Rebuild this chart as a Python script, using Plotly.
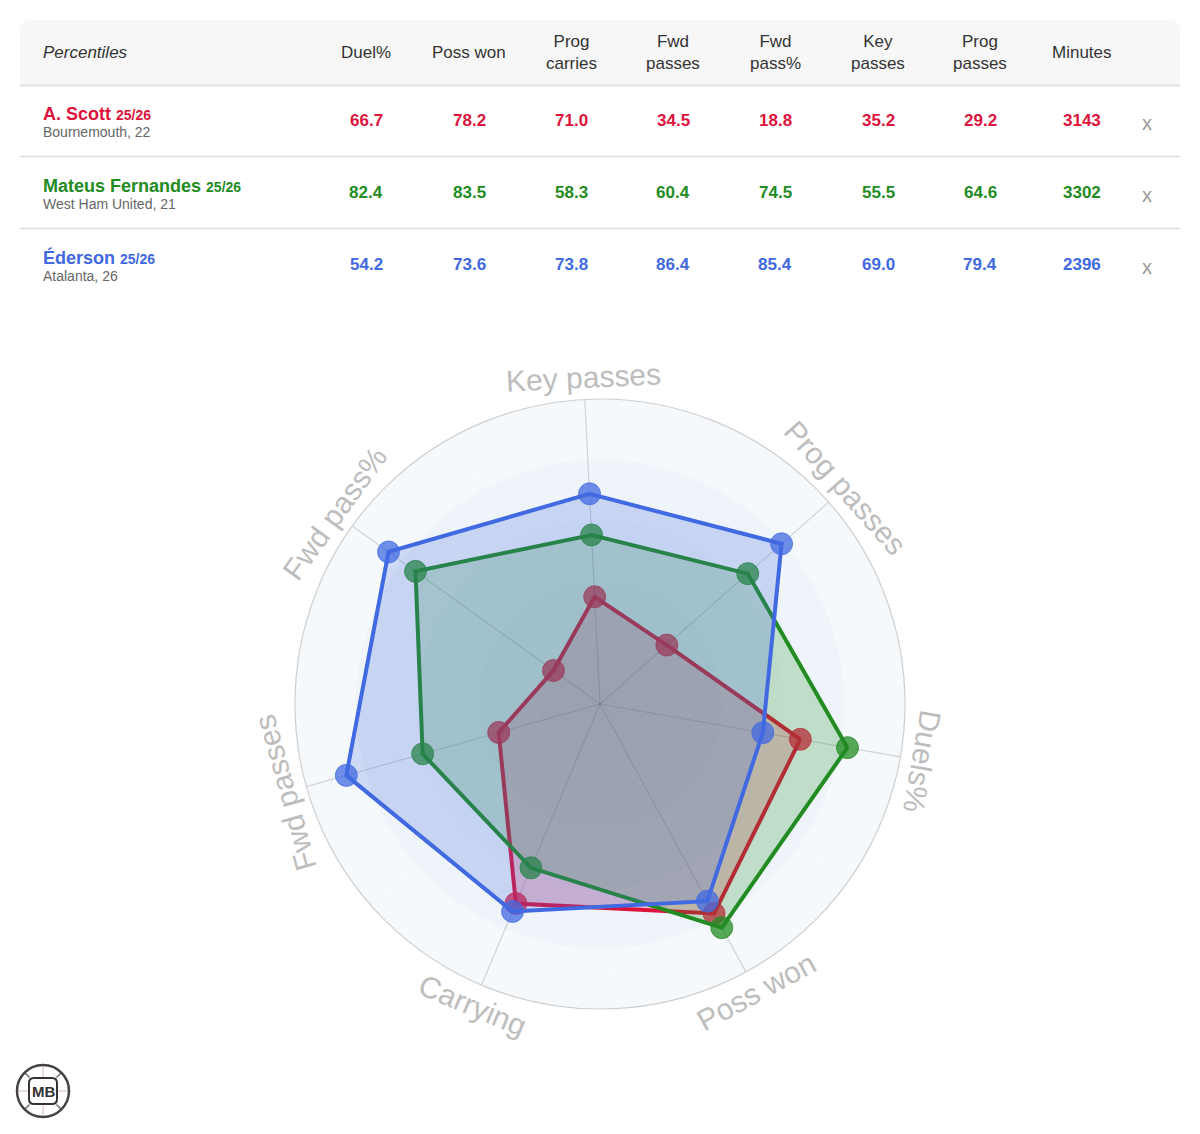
import math
import plotly.graph_objects as go

# ---------------- data ----------------
RADAR_AXES = ["Duels%", "Poss won", "Carrying", "Fwd passes", "Fwd pass%", "Key passes", "Prog passes"]
TABLE_HEADERS = ["Duel%", "Poss won", "Prog<br>carries", "Fwd<br>passes", "Fwd<br>pass%",
                 "Key<br>passes", "Prog<br>passes", "Minutes"]

PLAYER_NAMES = ["A. Scott", "Mateus Fernandes", "Éderson"]
PLAYER_SEASONS = ["25/26", "25/26", "25/26"]
PLAYER_CLUBS = ["Bournemouth, 22", "West Ham United, 21", "Atalanta, 26"]

SCOTT = [66.7, 78.2, 71.0, 34.5, 18.8, 35.2, 29.2]
FERNANDES = [82.4, 83.5, 58.3, 60.4, 74.5, 55.5, 64.6]
EDERSON = [54.2, 73.6, 73.8, 86.4, 85.4, 69.0, 79.4]
MINUTES = [3143, 3302, 2396]

PLAYER_VALUES = [SCOTT, FERNANDES, EDERSON]
COLORS = ["#DC143C", "#228B22", "#4169E1"]
RGB = [(220, 20, 60), (34, 139, 34), (65, 105, 225)]

RING_LEVELS = [100, 80, 60, 40, 20]
RING_COLORS = ["#f6f9fc", "#eef4f9", "#eaf1f7", "#e6eef5", "#e3ebf3"]

# ---------------- geometry helpers ----------------
W, H = 1200, 1134
FONT = "Arial, 'Liberation Sans', Helvetica, sans-serif"


def px(x):
    return x / W


def py(y):
    return 1 - y / H


CX, CY, R = 600, 704, 305
ROTATION = -10

fig = go.Figure()

# background rings
for lvl, col in zip(RING_LEVELS, RING_COLORS):
    fig.add_trace(go.Barpolar(
        r=[lvl] * len(RADAR_AXES), theta=RADAR_AXES,
        marker=dict(color=col, line=dict(color=col, width=1)),
        hoverinfo="skip", showlegend=False,
    ))

# spokes (grid)
for cat in RADAR_AXES:
    fig.add_trace(go.Scatterpolar(
        r=[0, 100], theta=[cat, cat], mode="lines",
        line=dict(color="rgba(0,0,0,0.15)", width=1.2),
        hoverinfo="skip", showlegend=False,
    ))

# players: fill + line, then markers
for vals, name, (r_, g_, b_), col in zip(PLAYER_VALUES, PLAYER_NAMES, RGB, COLORS):
    fig.add_trace(go.Scatterpolar(
        r=vals + [vals[0]], theta=RADAR_AXES + [RADAR_AXES[0]],
        mode="lines", fill="toself",
        fillcolor=f"rgba({r_},{g_},{b_},0.22)",
        line=dict(color=col, width=4),
        name=name, hoverinfo="skip", showlegend=False,
    ))
    fig.add_trace(go.Scatterpolar(
        r=vals, theta=RADAR_AXES, mode="markers",
        marker=dict(size=22, color=f"rgba({r_},{g_},{b_},0.75)",
                    line=dict(color=f"rgba({r_},{g_},{b_},0.75)", width=1)),
        name=name, showlegend=False,
    ))

annotations = []
shapes = []

# radar axis labels (tangential)
LABEL_R = 327
for i, lab in enumerate(RADAR_AXES):
    a = (90 - ROTATION) + i * 360 / len(RADAR_AXES)
    a = a % 360
    x = CX + LABEL_R * math.sin(math.radians(a))
    y = CY - LABEL_R * math.cos(math.radians(a))
    ang = a
    if 120 < a < 240:
        ang = a - 180
    if ang > 180:
        ang -= 360
    annotations.append(dict(
        x=px(x), y=py(y), xref="paper", yref="paper", text=lab, showarrow=False,
        textangle=ang, xanchor="center", yanchor="middle",
        font=dict(family=FONT, size=30, color="#bdbdbd"),
    ))

# ---------------- table ----------------
x0, y0, x1, y1, rr = 20, 20, 1180, 85, 10
path = (f"M {px(x0)},{py(y1)} L {px(x0)},{py(y0 + rr)} Q {px(x0)},{py(y0)} {px(x0 + rr)},{py(y0)} "
        f"L {px(x1 - rr)},{py(y0)} Q {px(x1)},{py(y0)} {px(x1)},{py(y0 + rr)} L {px(x1)},{py(y1)} Z")
shapes.append(dict(type="path", path=path, xref="paper", yref="paper",
                   fillcolor="#f7f7f7", line=dict(width=0), layer="below"))
shapes.append(dict(type="line", xref="paper", yref="paper", x0=px(20), x1=px(1180),
                   y0=py(85.5), y1=py(85.5), line=dict(color="#e2e2e2", width=2)))
for yl in (156.5, 228.5):
    shapes.append(dict(type="line", xref="paper", yref="paper", x0=px(20), x1=px(1180),
                       y0=py(yl), y1=py(yl), line=dict(color="#dedede", width=1.5)))

COL_X = [366, 469, 571, 673, 775, 878, 980, 1082]
X_COL = 1147
HEADER_Y = 52
ROW_Y = [121, 193, 265]

annotations.append(dict(x=px(41), y=py(HEADER_Y), xref="paper", yref="paper",
                        text="<i>Percentiles</i>", showarrow=False, xanchor="left", yanchor="middle",
                        font=dict(family=FONT, size=17, color="#333333")))
for hx, htxt in zip(COL_X, TABLE_HEADERS):
    annotations.append(dict(x=px(hx), y=py(HEADER_Y), xref="paper", yref="paper",
                            text=htxt, showarrow=False, xanchor="center", yanchor="middle",
                            font=dict(family=FONT, size=17, color="#333333")))

for ri, (name, season, club, vals, mins, col) in enumerate(
        zip(PLAYER_NAMES, PLAYER_SEASONS, PLAYER_CLUBS, PLAYER_VALUES, MINUTES, COLORS)):
    ry = ROW_Y[ri]
    annotations.append(dict(
        x=px(41), y=py(ry - 7), xref="paper", yref="paper",
        text=f"<b>{name}</b> <b><span style='font-size:14px'>{season}</span></b>",
        showarrow=False, xanchor="left", yanchor="middle",
        font=dict(family=FONT, size=18, color=col)))
    annotations.append(dict(
        x=px(41), y=py(ry + 11), xref="paper", yref="paper", text=club,
        showarrow=False, xanchor="left", yanchor="middle",
        font=dict(family=FONT, size=14, color="#666666")))
    cells = [f"{v:.1f}" for v in vals] + [str(mins)]
    for cx_, ctxt in zip(COL_X, cells):
        annotations.append(dict(
            x=px(cx_), y=py(ry), xref="paper", yref="paper", text=f"<b>{ctxt}</b>",
            showarrow=False, xanchor="center", yanchor="middle",
            font=dict(family=FONT, size=17, color=col)))
    annotations.append(dict(
        x=px(X_COL), y=py(ry + 2), xref="paper", yref="paper", text="x",
        showarrow=False, xanchor="center", yanchor="middle",
        font=dict(family=FONT, size=20, color="#999999")))

# ---------------- logo ----------------
LX, LY, LR = 43, 1091, 26
for ang in (0, 90, 180, 270):
    shapes.append(dict(type="line", xref="paper", yref="paper",
                       x0=px(LX + 14 * math.cos(math.radians(ang))), y0=py(LY + 14 * math.sin(math.radians(ang))),
                       x1=px(LX + LR * math.cos(math.radians(ang))), y1=py(LY + LR * math.sin(math.radians(ang))),
                       line=dict(color="#d9b3c8", width=1)))
for ang in (45, 135, 225, 315):
    shapes.append(dict(type="line", xref="paper", yref="paper",
                       x0=px(LX + 19 * math.cos(math.radians(ang))), y0=py(LY + 19 * math.sin(math.radians(ang))),
                       x1=px(LX + LR * math.cos(math.radians(ang))), y1=py(LY + LR * math.sin(math.radians(ang))),
                       line=dict(color="#777777", width=1.5)))
shapes.append(dict(type="circle", xref="paper", yref="paper",
                   x0=px(LX - LR), x1=px(LX + LR), y0=py(LY + LR), y1=py(LY - LR),
                   line=dict(color="#444444", width=2.5)))
bx0, by0, bx1, by1, br = LX - 14, LY - 13, LX + 14, LY + 13, 5
bpath = (f"M {px(bx0)},{py(by0 + br)} Q {px(bx0)},{py(by0)} {px(bx0 + br)},{py(by0)} "
         f"L {px(bx1 - br)},{py(by0)} Q {px(bx1)},{py(by0)} {px(bx1)},{py(by0 + br)} "
         f"L {px(bx1)},{py(by1 - br)} Q {px(bx1)},{py(by1)} {px(bx1 - br)},{py(by1)} "
         f"L {px(bx0 + br)},{py(by1)} Q {px(bx0)},{py(by1)} {px(bx0)},{py(by1 - br)} Z")
shapes.append(dict(type="path", path=bpath, xref="paper", yref="paper",
                   fillcolor="white", line=dict(color="#333333", width=2)))
annotations.append(dict(x=px(LX), y=py(LY), xref="paper", yref="paper", text="<b>MB</b>",
                        showarrow=False, xanchor="center", yanchor="middle",
                        font=dict(family=FONT, size=15, color="#333333")))

fig.update_layout(
    width=W, height=H, autosize=False,
    margin=dict(l=0, r=0, t=0, b=0, pad=0),
    paper_bgcolor="white", plot_bgcolor="white",
    showlegend=False,
    polar=dict(
        domain=dict(x=[px(CX - R), px(CX + R)], y=[py(CY + R), py(CY - R)]),
        bgcolor="rgba(0,0,0,0)",
        barmode="overlay",
        bargap=0,
        angularaxis=dict(direction="clockwise", rotation=ROTATION, showticklabels=False,
                         ticks="", showline=True, linecolor="#cfcfcf", linewidth=1.2,
                         showgrid=False, layer="above traces"),
        radialaxis=dict(range=[0, 100], showgrid=False, showticklabels=False,
                        showline=False, ticks=""),
    ),
    annotations=annotations,
    shapes=shapes,
)

fig.write_html("out.html", config={"displayModeBar": False},
               post_script="document.body.style.margin='0';document.body.style.padding='0';")
